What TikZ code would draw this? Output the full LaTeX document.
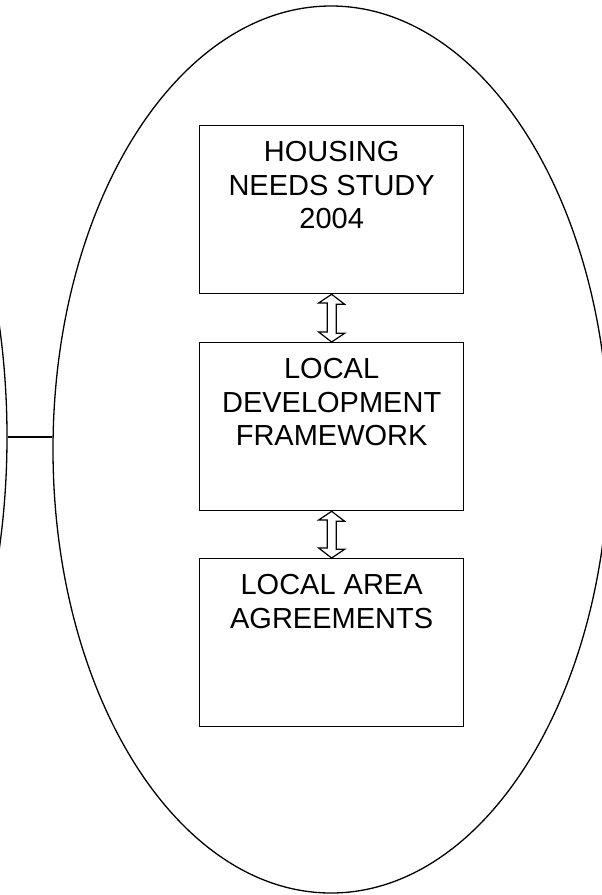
\documentclass[tikz,border=0pt]{standalone}
\usepackage{fontspec}
\setmainfont{Liberation Sans}
\usetikzlibrary{shapes.geometric}
\begin{document}
\begin{tikzpicture}[x=1pt,y=-1pt,
  oval/.style={ellipse,draw,line width=1.3pt,inner sep=0pt},
  box/.style={draw,line width=1.3pt,minimum width=264pt,minimum height=168pt,inner sep=0pt,anchor=north west},
  boxtext/.style={anchor=north,inner sep=0pt,align=center,font=\fontsize{29}{33.5}\selectfont},
  dblarrow/.style={draw,line width=1.2pt,line join=miter}]
\useasboundingbox (0,0) rectangle (602,895);
\clip (0,0) rectangle (602,895);
\node[oval,minimum width=556pt,minimum height=887pt] (big) at (331,449.5) {};
\node[oval,minimum width=540pt,minimum height=940pt] (left) at (-263,437) {};
\node[box] (b1) at (199,125) {};
\node[box] (b2) at (199,342) {};
\node[box] (b3) at (199,558) {};
\node[boxtext] (t1) at ([yshift=-16.5pt]b1.north) {HOUSING\\NEEDS STUDY\\2004};
\node[boxtext] (t2) at ([yshift=-16.5pt]b2.north) {LOCAL\\DEVELOPMENT\\FRAMEWORK};
\node[boxtext] (t3) at ([yshift=-16.5pt]b3.north) {LOCAL AREA\\AGREEMENTS};
\draw[line width=1.3pt] (left.east) -- (left.east -| big.west);
\draw[dblarrow] (b1.south) -- ++(13,10) -- ++(-8.5,0) -- ++(0,29) -- ++(8.5,0) -- (b2.north) -- ++(-13,-10) -- ++(8.5,0) -- ++(0,-29) -- ++(-8.5,0) -- cycle;
\draw[dblarrow] (b2.south) -- ++(13,10) -- ++(-8.5,0) -- ++(0,28) -- ++(8.5,0) -- (b3.north) -- ++(-13,-10) -- ++(8.5,0) -- ++(0,-28) -- ++(-8.5,0) -- cycle;
\end{tikzpicture}
\end{document}
